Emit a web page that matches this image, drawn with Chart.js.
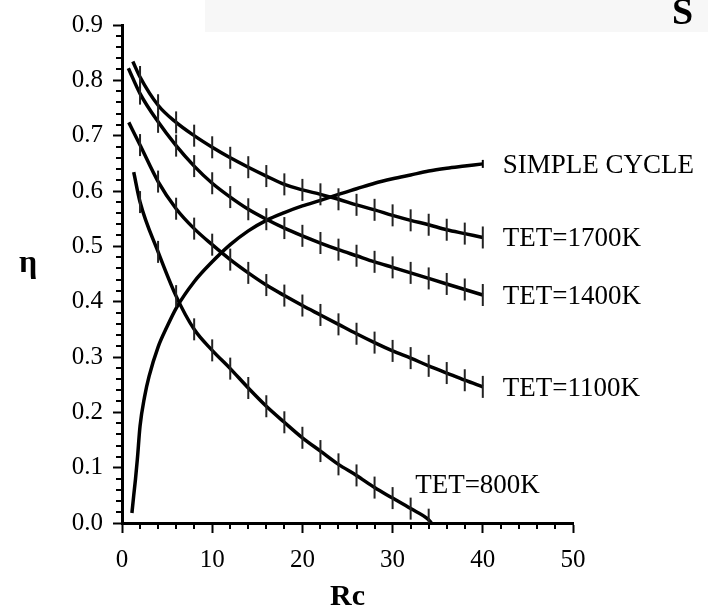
<!DOCTYPE html>
<html>
<head>
<meta charset="utf-8">
<script src="https://cdn.jsdelivr.net/npm/chart.js@4.4.1/dist/chart.umd.min.js"></script>
<style>
    body { margin: 0; background: #fff; }
    canvas { display: block; }
</style>
</head>
<body>
<canvas id="lienzo" width="708" height="609"></canvas>
<script>
// valores (Rc vs eta)
const rc1700 = [1.2, 2, 4, 6, 8, 10, 12, 14, 16, 18, 20, 22, 24, 26, 28, 30, 32, 34, 36, 38, 40]
const eta1700 = [0.834, 0.806, 0.755, 0.724, 0.700, 0.679, 0.660, 0.643, 0.627, 0.612, 0.602, 0.594, 0.585, 0.575, 0.566, 0.556, 0.547, 0.539, 0.530, 0.523, 0.516]

const rc1400 = [0.7, 2, 4, 6, 8, 10, 12, 14, 16, 18, 20, 22, 24, 26, 28, 30, 32, 34, 36, 38, 40]
const eta1400 = [0.822, 0.776, 0.725, 0.682, 0.645, 0.614, 0.589, 0.567, 0.549, 0.533, 0.519, 0.506, 0.494, 0.483, 0.472, 0.462, 0.452, 0.442, 0.432, 0.422, 0.412]

const rc1100 = [0.75, 2, 4, 6, 8, 10, 12, 14, 16, 18, 20, 22, 24, 26, 28, 30, 32, 34, 36, 38, 40]
const eta1100 = [0.724, 0.683, 0.617, 0.568, 0.532, 0.503, 0.476, 0.452, 0.430, 0.411, 0.393, 0.376, 0.359, 0.342, 0.326, 0.311, 0.298, 0.284, 0.271, 0.258, 0.246]

const rc800 = [1.3, 2, 4, 6, 8, 10, 12, 14, 16, 18, 20, 22, 24, 26, 28, 30, 32, 34, 34.3]
const eta800 = [0.634, 0.580, 0.490, 0.410, 0.350, 0.312, 0.279, 0.244, 0.211, 0.182, 0.154, 0.130, 0.106, 0.086, 0.064, 0.045, 0.026, 0.006, 0.0]

const rcSimple = [1.1, 1.3, 1.5, 1.7, 2, 2.5, 3, 4, 5, 6, 8, 10, 12, 14, 16, 18, 20, 22, 24, 26, 28, 30, 32, 34, 36, 38, 40]
const etaSimple = [0.018, 0.05, 0.08, 0.115, 0.175, 0.228, 0.265, 0.318, 0.355, 0.388, 0.436, 0.472, 0.503, 0.528, 0.547, 0.561, 0.573, 0.583, 0.594, 0.604, 0.614, 0.622, 0.629, 0.636, 0.641, 0.645, 0.649]

const etiquetas = ["TET=1700K", "TET=1400K", "TET=1100K", "TET=800K", "SIMPLE CYCLE"]
const xTicks = [0, 10, 20, 30, 40, 50]
const yTicks = [0, 0.1, 0.2, 0.3, 0.4, 0.5, 0.6, 0.7, 0.8, 0.9]

const serif = '"Liberation Serif", "DejaVu Serif", serif'

function puntos(xs, ys) {
    let res = []
    for (let i = 0; i < xs.length; i++) res.push({x: xs[i], y: ys[i]})
    return res
}

function serieTET(label, xs, ys, ultimoSinMarca) {
    return {
        label: label,
        data: puntos(xs, ys),
        borderColor: '#000',
        borderWidth: 3.5,
        cubicInterpolationMode: 'monotone',
        pointStyle: 'line',
        pointRotation: 90,
        pointBorderColor: '#222',
        pointBorderWidth: 2,
        pointRadius: ctx => (ctx.dataIndex === 0 || (ultimoSinMarca && ctx.dataIndex === xs.length - 1)) ? 0 : 11
    }
}

const textos = {
    id: 'textos',
    beforeDraw(chart) {
        const c = chart.ctx
        c.save()
        c.fillStyle = '#f7f7f7'
        c.fillRect(205, 0, 503, 32)
        c.restore()
    },
    afterDraw(chart) {
        const c = chart.ctx
        const xs = chart.scales.x
        const ys = chart.scales.y
        const area = chart.chartArea
        c.save()
        // ticks menores
        c.strokeStyle = '#000'
        c.lineWidth = 2
        for (let v = 2; v < 50; v += 2) {
            if (v % 10 === 0) continue
            const px = Math.round(xs.getPixelForValue(v))
            c.beginPath()
            c.moveTo(px, area.bottom)
            c.lineTo(px, area.bottom + 6)
            c.stroke()
        }
        for (let k = 1; k < 45; k++) {
            if (k % 5 === 0) continue
            const py = Math.round(ys.getPixelForValue(k * 0.02))
            c.beginPath()
            c.moveTo(area.left - 6, py)
            c.lineTo(area.left, py)
            c.stroke()
        }
        // etiquetas de las curvas
        c.fillStyle = '#000'
        c.font = '27px ' + serif
        c.textBaseline = 'alphabetic'
        c.textAlign = 'left'
        const finales = [[40, eta1700[eta1700.length - 1]], [40, eta1400[eta1400.length - 1]], [40, eta1100[eta1100.length - 1]], null, [40, etaSimple[etaSimple.length - 1]]]
        finales.forEach((f, i) => {
            if (!f) return
            c.fillText(etiquetas[i], xs.getPixelForValue(f[0]) + 20, ys.getPixelForValue(f[1]) + 9)
        })
        c.fillText(etiquetas[3], xs.getPixelForValue(32.5), ys.getPixelForValue(0.055))
        // titulos de ejes
        c.font = 'bold 32px ' + serif
        c.textAlign = 'center'
        c.fillText('η', 28, 272)
        c.font = 'bold 30px ' + serif
        c.fillText('Rc', (area.left + area.right) / 2, 605)
        c.font = 'bold 38px ' + serif
        c.textAlign = 'left'
        c.fillText('S', 672, 24)
        c.restore()
    }
}

new Chart(document.getElementById('lienzo'), {
    type: 'line',
    data: {
        datasets: [
            serieTET(etiquetas[0], rc1700, eta1700, false),
            serieTET(etiquetas[1], rc1400, eta1400, false),
            serieTET(etiquetas[2], rc1100, eta1100, false),
            serieTET(etiquetas[3], rc800, eta800, true),
            {
                label: etiquetas[4],
                data: puntos(rcSimple, etaSimple),
                borderColor: '#000',
                borderWidth: 3.5,
                cubicInterpolationMode: 'monotone',
                pointStyle: 'line',
                pointRotation: 90,
                pointBorderColor: '#000',
                pointBorderWidth: 2,
                pointRadius: ctx => ctx.dataIndex === rcSimple.length - 1 ? 4 : 0
            }
        ]
    },
    options: {
        responsive: false,
        animation: false,
        layout: { padding: { left: 0, top: 17, right: 135, bottom: 0 } },
        plugins: {
            legend: { display: false },
            tooltip: { enabled: false }
        },
        scales: {
            x: {
                type: 'linear',
                min: 0,
                max: 50,
                afterFit: s => { s.height = 86 },
                afterBuildTicks: s => { s.ticks = xTicks.map(v => ({value: v})) },
                border: { display: true, color: '#000', width: 3 },
                grid: { drawOnChartArea: false, drawTicks: true, tickLength: 10, tickWidth: 2, tickColor: '#000' },
                ticks: {
                    color: '#000',
                    font: { family: serif, size: 25 },
                    padding: 12,
                    maxRotation: 0,
                    callback: v => String(v)
                }
            },
            y: {
                type: 'linear',
                min: 0,
                max: 0.9,
                afterFit: s => { s.width = 122 },
                afterBuildTicks: s => { s.ticks = yTicks.map(v => ({value: v})) },
                border: { display: true, color: '#000', width: 3 },
                grid: { drawOnChartArea: false, drawTicks: true, tickLength: 9, tickWidth: 2, tickColor: '#000' },
                ticks: {
                    color: '#000',
                    font: { family: serif, size: 25 },
                    padding: 10,
                    callback: v => Number(v).toFixed(1)
                }
            }
        }
    },
    plugins: [textos]
})
</script>
</body>
</html>
